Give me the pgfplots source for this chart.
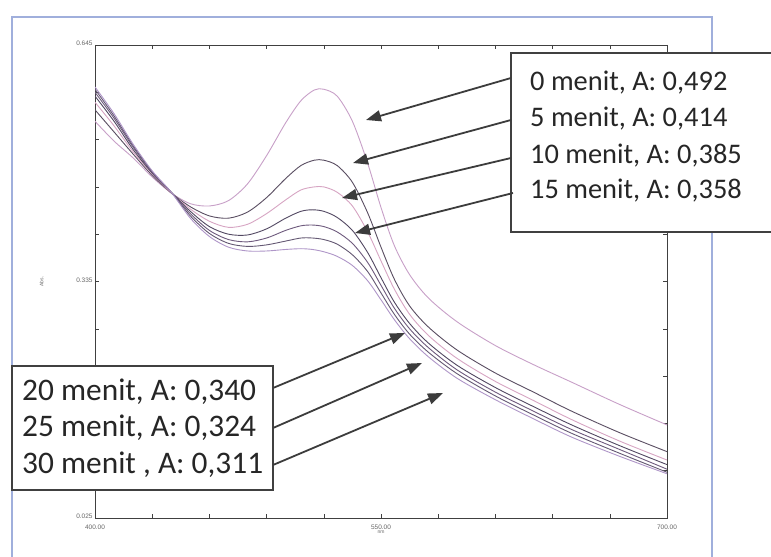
\documentclass[border=0pt]{standalone}
\usepackage{fontspec}
\setmainfont{Carlito}
\newfontfamily\tickfont{Liberation Sans}
\usepackage{pgfplots}
\pgfplotsset{compat=1.18}
\usetikzlibrary{arrows.meta}
\definecolor{frameblue}{RGB}{160,175,220}
\definecolor{cA}{RGB}{200,160,200}
\definecolor{cB}{RGB}{90,78,98}
\definecolor{cC}{RGB}{215,165,195}
\definecolor{cD}{RGB}{82,72,98}
\definecolor{cE}{RGB}{110,90,125}
\definecolor{cF}{RGB}{100,88,115}
\definecolor{cG}{RGB}{175,150,200}
\definecolor{arrowgray}{RGB}{60,60,60}
\begin{document}
\begin{tikzpicture}[x=1bp,y=1bp]
\useasboundingbox (0,0) rectangle (771,-557);
\fill[white] (0,0) rectangle (771,-557);
% outer frame of the scanned figure
\draw[frameblue, line width=1.6bp] (12,-570) -- (12,-17) -- (712,-17) -- (712,-570);
\begin{axis}[
  at={(95bp,-518bp)}, anchor=south west,
  scale only axis, width=572bp, height=473bp,
  xmin=400, xmax=700, ymin=0.025, ymax=0.645,
  axis line style={draw=black!75, line width=0.8bp},
  tick style={draw=black!75, line width=0.6bp},
  major tick length=4bp,
  tick align=inside,
  xtick={400,430,...,700},
  xticklabels={400.00,,,,,550.00,,,,,700.00},
  ytick={0.025,0.087,0.149,0.211,0.273,0.335,0.397,0.459,0.521,0.583,0.645},
  yticklabels={0.025,,,,,0.335,,,,,0.645},
  /pgf/number format/assume math mode=true,
  ticklabel style={font=\tickfont\fontsize{6.5}{7}\selectfont, text=black!60},
  xticklabel style={yshift=-3bp},
  yticklabel style={xshift=1bp, yshift=1.5bp},
  xlabel={nm}, xlabel style={font=\tickfont\fontsize{5}{6}\selectfont, text=black!60, yshift=5bp},
  ylabel={Abs.}, ylabel style={font=\tickfont\fontsize{5}{6}\selectfont, text=black!60, yshift=26bp},
  every axis plot/.append style={smooth, line width=0.9bp, no marks},
  clip=true,
]
% 0 menit
\addplot[cA] coordinates {(400,0.545)(410,0.519)(420,0.497)(430,0.472)(440,0.451)(450,0.437)(460,0.434)(470,0.441)(480,0.463)(490,0.500)(500,0.543)(508,0.572)(515,0.586)(520,0.587)(527,0.578)(535,0.545)(543,0.490)(550,0.432)(557,0.382)(565,0.344)(575,0.313)(590,0.282)(610,0.251)(630,0.226)(650,0.203)(675,0.174)(700,0.147)};
% 5 menit
\addplot[cB] coordinates {(400,0.560)(410,0.531)(420,0.502)(430,0.474)(440,0.451)(450,0.433)(460,0.421)(470,0.418)(480,0.426)(490,0.445)(500,0.470)(508,0.487)(515,0.494)(520,0.494)(527,0.487)(535,0.465)(543,0.425)(550,0.380)(557,0.338)(565,0.303)(575,0.275)(590,0.245)(610,0.215)(630,0.190)(650,0.165)(675,0.137)(700,0.112)};
% 10 menit
\addplot[cC] coordinates {(400,0.570)(410,0.539)(420,0.505)(430,0.476)(440,0.451)(450,0.430)(460,0.414)(470,0.406)(480,0.410)(490,0.424)(500,0.442)(508,0.455)(515,0.459)(520,0.459)(527,0.452)(535,0.434)(543,0.400)(550,0.362)(557,0.325)(565,0.292)(575,0.264)(590,0.234)(610,0.204)(630,0.179)(650,0.154)(675,0.126)(700,0.101)};
% 15 menit
\addplot[cD] coordinates {(400,0.578)(410,0.545)(420,0.508)(430,0.477)(440,0.452)(450,0.427)(460,0.407)(470,0.397)(480,0.396)(490,0.404)(500,0.418)(508,0.427)(514,0.429)(520,0.427)(527,0.419)(535,0.402)(543,0.373)(550,0.340)(557,0.308)(565,0.280)(575,0.254)(590,0.225)(610,0.196)(630,0.171)(650,0.147)(675,0.120)(700,0.095)};
% 20 menit
\addplot[cE] coordinates {(400,0.583)(410,0.549)(420,0.511)(430,0.478)(440,0.452)(450,0.424)(460,0.402)(470,0.390)(480,0.387)(490,0.392)(500,0.402)(508,0.408)(514,0.409)(520,0.407)(527,0.400)(535,0.385)(543,0.360)(550,0.330)(557,0.300)(565,0.273)(575,0.248)(590,0.219)(610,0.190)(630,0.165)(650,0.141)(675,0.115)(700,0.089)};
% 25 menit
\addplot[cF] coordinates {(400,0.587)(410,0.552)(420,0.513)(430,0.479)(440,0.452)(450,0.421)(460,0.398)(470,0.385)(480,0.381)(490,0.383)(500,0.388)(508,0.392)(514,0.392)(520,0.390)(527,0.384)(535,0.370)(543,0.348)(550,0.320)(557,0.292)(565,0.266)(575,0.242)(590,0.214)(610,0.185)(630,0.160)(650,0.136)(675,0.110)(700,0.085)};
% 30 menit
\addplot[cG] coordinates {(400,0.590)(410,0.555)(420,0.515)(430,0.480)(440,0.452)(450,0.418)(460,0.394)(470,0.380)(480,0.375)(490,0.375)(500,0.377)(508,0.378)(514,0.377)(520,0.374)(527,0.368)(535,0.356)(543,0.336)(550,0.311)(557,0.285)(565,0.260)(575,0.236)(590,0.208)(610,0.180)(630,0.155)(650,0.131)(675,0.106)(700,0.083)};
\end{axis}
% annotation boxes
\draw[black!75, line width=1.3bp, fill=white] (511,-53) rectangle (790,-232);
\draw[black!75, line width=1.3bp, fill=white] (12,-366) rectangle (273,-490);
\begin{scope}[every node/.style={anchor=base west, inner sep=0pt, text=black!85, font=\fontsize{28.5}{30}\selectfont}]
\node at (530,-91) {0 menit, A: 0,492};
\node at (530,-127) {5 menit, A: 0,414};
\node at (530,-164) {10 menit, A: 0,385};
\node at (530,-199) {15 menit, A: 0,358};
\end{scope}
\begin{scope}[every node/.style={anchor=base west, inner sep=0pt, text=black!85, font=\fontsize{31.5}{33}\selectfont}]
\node at (22,-400) {20 menit, A: 0,340};
\node at (22,-436) {25 menit, A: 0,324};
\node at (22,-473) {30 menit , A: 0,311};
\end{scope}
% arrows
\begin{scope}[arrowgray, line width=1.8bp, -{Triangle[length=15bp,width=11bp]}]
\draw (511,-78) -- (366,-120);
\draw (511,-120) -- (353,-163);
\draw (511,-158) -- (342,-198);
\draw (513,-193) -- (355,-233);
\draw (273,-388) -- (405,-333);
\draw (273,-428) -- (422,-363);
\draw (273,-465) -- (443,-393);
\end{scope}
\end{tikzpicture}
\end{document}
